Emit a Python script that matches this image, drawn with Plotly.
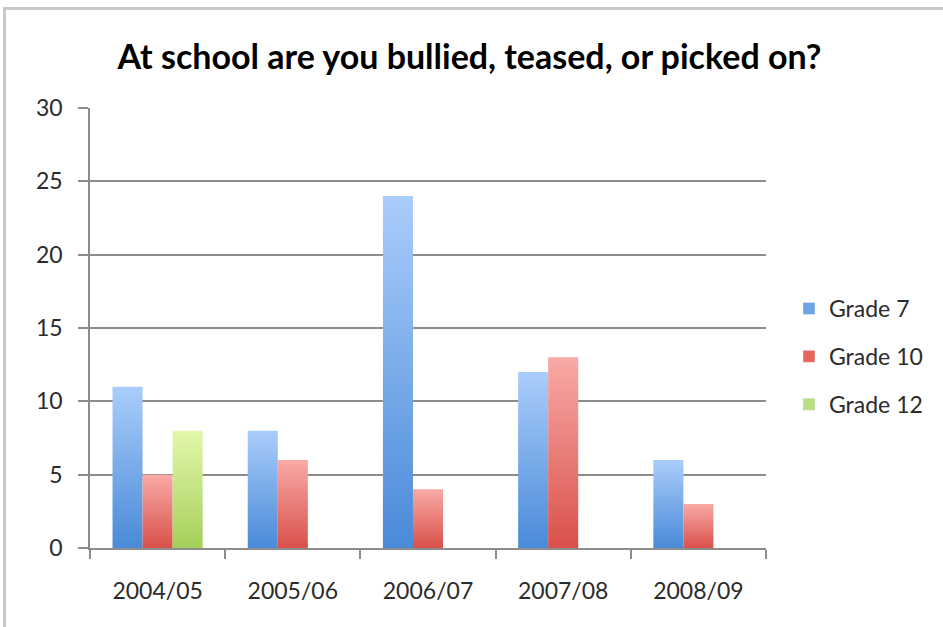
import plotly.graph_objects as go

# Survey results by school year
years = ["2004/05", "2005/06", "2006/07", "2007/08", "2008/09"]
grade7 = [11, 8, 24, 12, 6]
grade10 = [5, 6, 4, 13, 3]
grade12 = [8, None, None, None, None]

series = [
    ("Grade 7", grade7, "#4a8ad8", "#aacdfb", "#6fa3e6"),
    ("Grade 10", grade10, "#d9514a", "#f9aaa7", "#e8655e"),
    ("Grade 12", grade12, "#a6cf5a", "#e2f8ac", "#b9dd80"),
]

FONT = "Lato"
GAP = 1 / 3                      # space between category groups
BAR_W = (1 - GAP) / len(series)  # width of one bar in category units

fig = go.Figure()

for k, (name, values, dark, light, mid) in enumerate(series):
    # legend entry
    fig.add_trace(go.Bar(
        x=[None], y=[None], name=name, marker_color=mid,
        legendgroup=name, showlegend=True,
    ))
    # bars with a vertical gradient fill
    for i, v in enumerate(values):
        if v is None:
            continue
        x0 = i - (1 - GAP) / 2 + k * BAR_W
        x1 = x0 + BAR_W
        fig.add_trace(go.Scatter(
            x=[x0, x0, x1, x1, x0], y=[0, v, v, 0, 0],
            mode="none", fill="toself",
            fillgradient=dict(type="vertical",
                              colorscale=[[0, dark], [1, light]]),
            legendgroup=name, showlegend=False, hoverinfo="skip",
        ))

L, R, T, B = 90, 177, 108, 79
W, H = 943, 627
pw, ph = W - L - R, H - T - B

def px_x(p):
    return (p - L) / pw

def px_y(p):
    return 1 - (p - T) / ph

# outer frame of the chart box
frame = "#c9c9c9"
fig.add_shape(type="line", xref="paper", yref="paper",
              x0=px_x(4.5), x1=px_x(4.5), y0=px_y(8), y1=px_y(640),
              line=dict(color=frame, width=3))
fig.add_shape(type="line", xref="paper", yref="paper",
              x0=px_x(3), x1=px_x(960), y0=px_y(8.5), y1=px_y(8.5),
              line=dict(color=frame, width=3))

TEXT = "#2b2b2b"

fig.update_layout(
    width=W, height=H,
    margin=dict(l=L, r=R, t=T, b=B),
    paper_bgcolor="white", plot_bgcolor="white",
    showlegend=True,
    title=dict(
        text="<b>At school are you bullied, teased, or picked on?</b>",
        xref="container", x=469.5 / W, xanchor="center",
        yref="container", y=1 - 57 / H, yanchor="middle",
        font=dict(family=FONT, size=34, color="#000000"),
    ),
    legend=dict(
        x=px_x(789), xanchor="left", y=px_y(287), yanchor="top",
        font=dict(family=FONT, size=23, color=TEXT),
        traceorder="grouped", tracegroupgap=15,
        bgcolor="rgba(0,0,0,0)",
    ),
    xaxis=dict(
        range=[-0.5, 4.5], tickmode="array",
        tickvals=list(range(len(years))), ticktext=years,
        ticks="", showgrid=False, zeroline=False,
        showline=True, linecolor="#8c8c8c", linewidth=1.5,
        tickfont=dict(family=FONT, size=23, color=TEXT),
        ticklabelstandoff=22,
        minor=dict(tick0=-0.5, dtick=1, ticks="outside", ticklen=9,
                   tickcolor="#8c8c8c", tickwidth=1.5, showgrid=False),
    ),
    yaxis=dict(
        range=[0, 30], dtick=5, tick0=0,
        ticks="outside", ticklen=10, tickcolor="#8c8c8c", tickwidth=1.5,
        showgrid=True, gridcolor="#8c8c8c", gridwidth=1.5,
        zeroline=False, showline=True, linecolor="#8c8c8c", linewidth=1.5,
        tickfont=dict(family=FONT, size=23, color=TEXT),
        ticklabelstandoff=11,
    ),
)

fig.write_html("out.html")
